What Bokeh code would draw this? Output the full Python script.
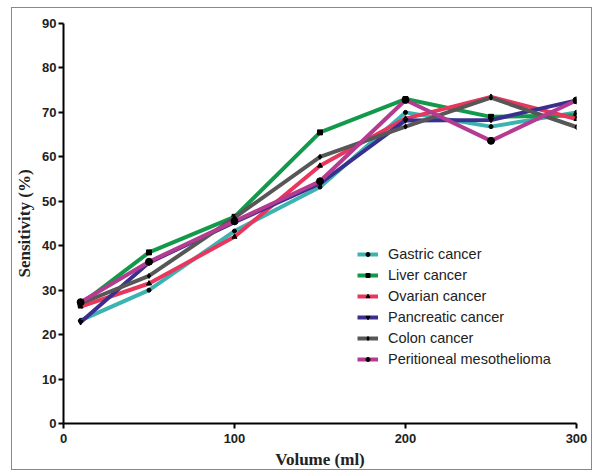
from bokeh.plotting import figure
from bokeh.embed import file_html
from bokeh.resources import INLINE
from bokeh.models import FixedTicker, Range1d

volume = [10, 50, 100, 150, 200, 250, 300]
gastric = [23.2, 30.0, 43.3, 53.2, 70.0, 66.8, 70.0]
liver = [26.8, 38.5, 46.5, 65.5, 73.0, 69.0, 69.3]
ovarian = [26.3, 31.5, 42.0, 58.0, 68.6, 73.5, 68.5]
pancreatic = [22.8, 36.2, 45.3, 54.0, 68.2, 68.3, 72.7]
colon = [27.0, 33.2, 46.3, 60.0, 66.8, 73.3, 66.7]
peritoneal = [27.3, 36.4, 45.5, 54.5, 72.8, 63.6, 72.7]

series_names = ["Gastric cancer", "Liver cancer", "Ovarian cancer",
                "Pancreatic cancer", "Colon cancer", "Peritioneal mesothelioma"]
series_values = [gastric, liver, ovarian, pancreatic, colon, peritoneal]
colors = ["#3db3b1", "#129a4a", "#e8365c", "#3a2f8e", "#575757", "#b43b90"]
markers = ["circle", "square", "triangle", "inverted_triangle", "diamond", "circle"]
msizes = [4, 5, 5, 5, 5, 7]

x_ticks = [0, 100, 200, 300]
y_ticks = [0, 10, 20, 30, 40, 50, 60, 70, 80, 90]

p = figure(width=581, height=463, output_backend="svg", toolbar_location=None,
           x_range=Range1d(0, 300), y_range=Range1d(0, 90),
           min_border_left=51, min_border_top=15, min_border_right=17, min_border_bottom=48)
p.outline_line_color = None
p.grid.visible = False
p.background_fill_color = "white"
p.border_fill_color = "white"

for name, vals, c, m, s in zip(series_names, series_values, colors, markers, msizes):
    p.line(volume, vals, line_color=c, line_width=4, legend_label=name)
    p.scatter(volume, vals, marker=m, size=s, fill_color="black", line_color="black",
              legend_label=name)

for ax in (p.xaxis[0], p.yaxis[0]):
    ax.axis_line_width = 2
    ax.axis_line_color = "black"
    ax.major_tick_line_width = 2
    ax.major_tick_line_color = "black"
    ax.major_tick_out = 5
    ax.major_tick_in = 0
    ax.minor_tick_line_color = None
    ax.major_label_text_font = "Liberation Sans"
    ax.major_label_text_font_style = "bold"
    ax.major_label_text_font_size = "13px"
    ax.major_label_text_color = "#222222"
    ax.axis_label_text_font = "Liberation Serif"
    ax.axis_label_text_font_style = "bold"
    ax.axis_label_text_font_size = "17px"
    ax.axis_label_text_color = "#222222"

p.xaxis[0].ticker = FixedTicker(ticks=x_ticks)
p.yaxis[0].ticker = FixedTicker(ticks=y_ticks)
p.xaxis[0].axis_label = "Volume (ml)"
p.yaxis[0].axis_label = "Sensitivity (%)"
p.xaxis[0].axis_label_standoff = 4
p.yaxis[0].axis_label_standoff = 5
p.yaxis[0].major_label_standoff = 2

lg = p.legend[0]
lg.location = (294, 54)
lg.padding = 0
lg.margin = 0
lg.spacing = 0
lg.border_line_color = None
lg.background_fill_alpha = 0
lg.label_height = 21
lg.glyph_height = 10
lg.glyph_width = 21
lg.label_standoff = 10
lg.label_text_font = "Liberation Sans"
lg.label_text_font_size = "14.5px"
lg.label_text_color = "#222222"

p.styles = {"border": "1px solid #888888", "margin-left": "11px", "margin-top": "7px"}

open("out.html", "w").write(file_html(p, INLINE))
